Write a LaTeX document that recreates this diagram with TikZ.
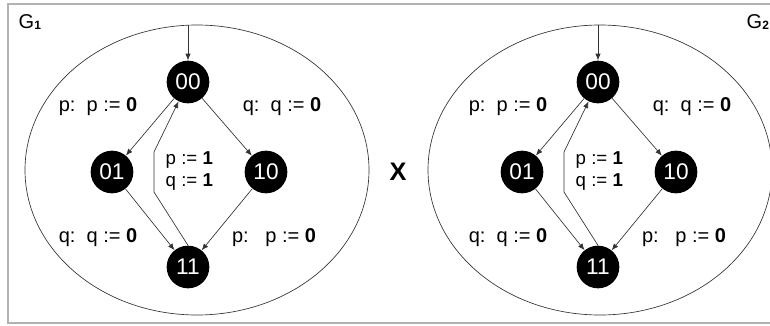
\documentclass[tikz,border=0pt]{standalone}
\usepackage{fontspec}
\setmainfont{Liberation Sans}
\usetikzlibrary{arrows.meta,calc,positioning}

\begin{document}
\begin{tikzpicture}[x=0.75pt,y=-0.75pt,>={Latex[length=5pt,width=4pt]},
  state/.style={circle,fill=black,text=white,inner sep=0pt,minimum size=32pt,font=\fontsize{17}{17}\selectfont},
  lbl/.style={font=\fontsize{15}{18}\selectfont},
  trans/.style={->,draw=black!80,line width=0.5pt}]
\useasboundingbox (0,0) rectangle (770,325);
\draw[gray!60,line width=0.9pt] (772,4)--(8,4)--(8,323)--(772,323);
\node[anchor=west,font=\fontsize{15}{15}\selectfont] (gA) at (14,22) {G\raisebox{-1pt}{\small\bfseries 1}};
\node[anchor=west,font=\fontsize{15}{15}\selectfont] (gB) at (742,22) {G\raisebox{-1pt}{\small\bfseries 2}};
\node[font=\fontsize{19}{19}\selectfont\bfseries] (times) at (398,172) {X};
% the two copies of the automaton
\foreach \g/\dx/\ex in {1/0/197,2/410/190}{
\begin{scope}[shift={(\dx,0)}]
\draw[black!80,line width=0.5pt] (\ex,170) ellipse (172 and 145);
\coordinate (g\g-init) at (188,25);
\node[state] (g\g-00) at (188,82) {00};
\node[state] (g\g-01) at (112,172) {01};
\node[state] (g\g-10) at (266,172) {10};
\node[state] (g\g-11) at (188,267) {11};
\coordinate (g\g-b1) at (154,192); \coordinate (g\g-b2) at (154,152);
\draw[trans] (g\g-init)--(g\g-00);
\draw[trans] (g\g-00)--(g\g-01);
\draw[trans] (g\g-00)--(g\g-10);
\draw[trans] (g\g-01)--(g\g-11);
\draw[trans] (g\g-10)--(g\g-11);
\draw[trans] (g\g-11.north)--(g\g-b1)--(g\g-b2)--(g\g-00);
\node[lbl] (g\g-l1) at (98,107) {p:\ \ p := \textbf{0}};
\node[lbl] (g\g-l2) at (282,107) {q:\ \ q := \textbf{0}};
\node[lbl] (g\g-l3) at (98,238) {q:\ \ q := \textbf{0}};
\node[lbl] (g\g-l4) at (274,238) {p:\ \ \ p := \textbf{0}};
\node[lbl,anchor=west,align=left,font=\fontsize{14}{16.5}\selectfont] (g\g-l5) at (161,171) {p := \textbf{1}\\q := \textbf{1}};
\end{scope}
}
\end{tikzpicture}
\end{document}
